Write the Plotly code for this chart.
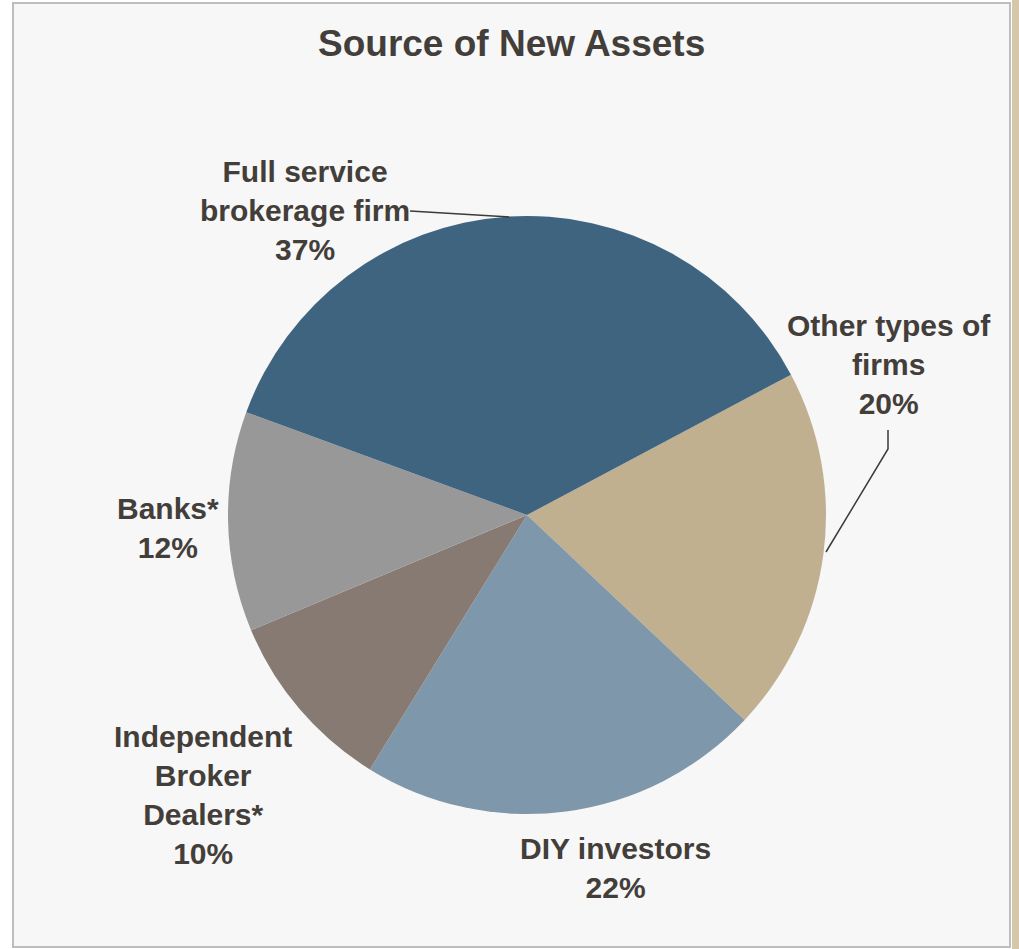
import plotly.graph_objects as go

# Share of new assets by source (percent, as labelled)
labels = ["Other types of<br>firms", "DIY investors", "Independent<br>Broker<br>Dealers*",
          "Banks*", "Full service<br>brokerage firm"]
values = [20, 22, 10, 12, 37]
colors = ["#c0b08f", "#7f97aa", "#877a72", "#989898", "#3f6480"]

W, H = 1019, 949
TEXT = "#433e3a"


def px(x):
    return x / W


def py(y):
    return 1 - y / H


# label anchor centres in pixels
label_pos = [(889, 365), (615, 868), (203, 795), (168, 528), (305, 211)]

fig = go.Figure()
fig.add_trace(go.Pie(
    labels=labels,
    values=values,
    sort=False,
    direction="clockwise",
    rotation=62,
    textinfo="none",
    hoverinfo="label+percent",
    marker=dict(colors=colors, line=dict(width=0)),
    domain=dict(x=[px(527 - 299), px(527 + 299)], y=[py(515 + 299), py(515 - 299)]),
    showlegend=False,
))

annotations = [dict(
    text="<b>Source of New Assets</b>", x=px(512), y=py(43), xref="paper", yref="paper",
    xanchor="center", yanchor="middle", showarrow=False,
    font=dict(family="Liberation Sans, Arial, sans-serif", size=37, color=TEXT),
)]
for lab, val, (lx, ly) in zip(labels, values, label_pos):
    annotations.append(dict(
        text=f"<b>{lab}<br>{val}%</b>", x=px(lx), y=py(ly), xref="paper", yref="paper",
        xanchor="center", yanchor="middle", showarrow=False, align="center",
        font=dict(family="Liberation Sans, Arial, sans-serif", size=30, color=TEXT),
    ))

shapes = [
    # panel background and frame
    dict(type="rect", xref="paper", yref="paper", x0=px(13), x1=px(1010), y0=py(947), y1=py(3),
         fillcolor="#f7f7f7", line=dict(color="#bdbdbd", width=2), layer="below"),
    dict(type="rect", xref="paper", yref="paper", x0=px(1012), x1=1, y0=0, y1=1,
         fillcolor="#d4c8a8", line=dict(width=0), layer="below"),
    # leader lines
    dict(type="line", xref="paper", yref="paper", x0=px(410), y0=py(211), x1=px(510), y1=py(217),
         line=dict(color="#3d3a37", width=1.5)),
    dict(type="path", xref="paper", yref="paper",
         path=f"M {px(888)},{py(430)} L {px(888)},{py(449)} L {px(826)},{py(552)}",
         line=dict(color="#3d3a37", width=1.5)),
]

fig.update_layout(
    width=W, height=H,
    margin=dict(l=0, r=0, t=0, b=0),
    paper_bgcolor="white",
    annotations=annotations,
    shapes=shapes,
)

fig.write_html("out.html")
